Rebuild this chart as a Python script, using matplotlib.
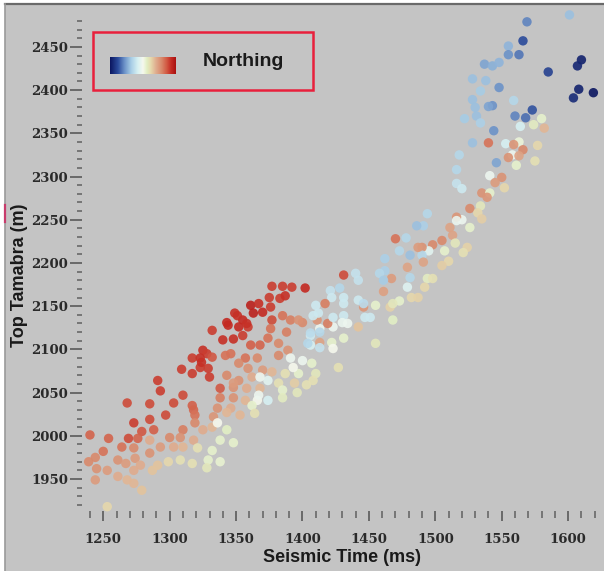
import numpy as np
import matplotlib
matplotlib.use("Agg")
import matplotlib.pyplot as plt
from matplotlib.colors import LinearSegmentedColormap
from matplotlib.patches import Rectangle
from matplotlib.ticker import MultipleLocator, FixedLocator

# seismic time (ms), top Tamabra depth (m), normalised northing (0 = south/blue, 1 = north/red)
seismic_time = [
    # upper trend (blue/white)
    1601, 1569, 1566, 1555, 1555, 1563, 1610, 1607, 1585, 1537,
    1543, 1548, 1528, 1538, 1548, 1608, 1619, 1604, 1534, 1528,
    1543, 1540, 1530, 1559, 1573, 1568, 1560, 1531, 1522, 1534,
    1580, 1564, 1574, 1582, 1544, 1540, 1528, 1553, 1563, 1559,
    1566, 1577, 1558, 1555, 1563, 1575, 1518, 1546, 1561, 1516,
    1541, 1550, 1545, 1552, 1516, 1520, 1535, 1541, 1539,
    1526, 1534, 1532, 1520, 1516, 1526, 1535, 1511, 1494, 1491,
    1513, 1505, 1498, 1515, 1524, 1521, 1507, 1495, 1490, 1490,
    1491, 1510, 1505, 1494, 1498,
    1516, 1486, 1470, 1478, 1487, 1473, 1481, 1462, 1479, 1462,
    1458, 1467, 1461, 1481, 1479, 1461, 1473, 1482, 1487, 1492,
    1431, 1440, 1442, 1402, 1421, 1428, 1431, 1431, 1422, 1410,
    1417, 1442, 1446, 1455, 1466, 1447, 1451, 1468, 1442, 1431,
    1430, 1423, 1413, 1411, 1408, 1400, 1406, 1422, 1431, 1413,
    1406, 1455, 1423,
    # middle (red cluster and mixed)
    1377, 1385, 1392, 1375, 1383, 1387, 1361, 1367, 1376, 1370,
    1363, 1349, 1355, 1377, 1385, 1391, 1397, 1344, 1352, 1359,
    1332, 1376, 1388, 1413, 1340, 1348, 1355, 1361, 1368, 1374,
    1382, 1389, 1404, 1406, 1325, 1328, 1317, 1323, 1332, 1342,
    1346, 1357, 1366, 1382, 1391, 1400, 1323, 1329, 1309, 1352,
    1359, 1370, 1377, 1387, 1397, 1407, 1410, 1317, 1330, 1343,
    1352, 1362, 1374, 1382, 1394, 1403, 1338, 1348, 1358, 1368,
    1385, 1396, 1310, 1338, 1348, 1357, 1366, 1367, 1374, 1385,
    1317, 1318, 1336, 1346, 1362, 1364, 1353,
    # lower left
    1291, 1293, 1348, 1303, 1268, 1285, 1297, 1343, 1333,
    1285, 1273, 1279, 1288, 1319, 1319, 1310, 1325, 1332, 1336,
    1343, 1240, 1254, 1269, 1276, 1285, 1300, 1308, 1318, 1338,
    1348, 1264, 1273, 1293, 1303, 1310, 1321, 1332, 1250, 1285,
    1244, 1239, 1261, 1267, 1274, 1278, 1291, 1299, 1308, 1317,
    1329, 1338, 1245, 1253, 1261, 1273, 1287, 1328, 1244, 1268,
    1273, 1279, 1253,
    # extra
    1343, 1351, 1358, 1324, 1368, 1413, 1419, 1412, 1423, 1434,
    1446, 1468, 1427, 1408, 1393,
]
top_tamabra = [
    2487, 2479, 2457, 2451, 2441, 2441, 2435, 2428, 2421, 2430,
    2428, 2432, 2413, 2411, 2403, 2401, 2397, 2391, 2399, 2389,
    2382, 2381, 2380, 2388, 2377, 2368, 2370, 2370, 2367, 2362,
    2367, 2358, 2360, 2356, 2353, 2339, 2339, 2338, 2340, 2337,
    2331, 2336, 2325, 2322, 2324, 2318, 2325, 2316, 2313, 2308,
    2301, 2299, 2293, 2287, 2292, 2286, 2281, 2281, 2276,
    2263, 2266, 2258, 2250, 2253, 2241, 2251, 2241, 2257, 2243,
    2232, 2226, 2221, 2223, 2218, 2212, 2214, 2214, 2218, 2209,
    2201, 2202, 2197, 2182, 2182,
    2249, 2243, 2228, 2229, 2218, 2214, 2209, 2205, 2195, 2191,
    2188, 2182, 2180, 2183, 2172, 2167, 2156, 2160, 2160, 2172,
    2186, 2188, 2180, 2171, 2168, 2171, 2160, 2153, 2160, 2151,
    2153, 2157, 2149, 2151, 2149, 2137, 2137, 2134, 2126, 2139,
    2131, 2126, 2124, 2134, 2139, 2131, 2116, 2108, 2113, 2108,
    2105, 2107, 2101,
    2173, 2173, 2172, 2160, 2159, 2162, 2151, 2153, 2149, 2143,
    2142, 2142, 2134, 2134, 2139, 2134, 2134, 2128, 2126, 2126,
    2122, 2124, 2120, 2120, 2111, 2112, 2116, 2105, 2105, 2113,
    2107, 2099, 2107, 2119, 2099, 2095, 2090, 2090, 2091, 2093,
    2095, 2090, 2090, 2093, 2090, 2087, 2079, 2078, 2077, 2084,
    2078, 2076, 2074, 2072, 2072, 2084, 2072, 2072, 2068, 2070,
    2064, 2068, 2064, 2061, 2061, 2059, 2055, 2056, 2055, 2055,
    2053, 2050, 2047, 2044, 2044, 2041, 2041, 2047, 2041, 2044,
    2035, 2030, 2032, 2032, 2035, 2026, 2024,
    2064, 2052, 2061, 2038, 2038, 2037, 2024, 2027, 2022,
    2019, 2015, 2005, 2007, 2024, 2015, 2007, 2007, 2010, 2015,
    2007, 2001, 1997, 1997, 1997, 1995, 1998, 1998, 1995, 1995,
    1992, 1987, 1986, 1987, 1987, 1987, 1986, 1983, 1982, 1980,
    1975, 1970, 1972, 1968, 1974, 1966, 1966, 1970, 1972, 1968,
    1972, 1970, 1962, 1960, 1953, 1960, 1960, 1963, 1949, 1949,
    1945, 1937, 1918,
    2131, 2139, 2130, 2085, 2068, 2102, 2130, 2142, 2137, 2130,
    2153, 2153, 2079, 2064, 2079,
]
northing = [
    .30, .20, .12, .28, .22, .18, .03, .04, .10, .25,
    .27, .28, .30, .30, .22, .03, .00, .05, .32, .30,
    .22, .25, .30, .35, .13, .17, .20, .30, .32, .33,
    .55, .42, .57, .68, .22, .82, .30, .42, .53, .75,
    .78, .62, .48, .76, .72, .60, .35, .25, .55, .35,
    .48, .76, .74, .62, .38, .40, .76, .55, .75,
    .78, .58, .62, .48, .75, .55, .64, .72, .35, .33,
    .72, .78, .78, .58, .63, .60, .55, .45, .76, .35,
    .72, .62, .64, .57, .60,
    .47, .30, .82, .35, .74, .35, .30, .33, .72, .33,
    .35, .74, .32, .35, .44, .73, .55, .62, .63, .62,
    .88, .38, .38, .93, .38, .35, .40, .40, .40, .40,
    .80, .40, .75, .55, .63, .40, .40, .56, .66, .40,
    .47, .48, .48, .75, .40, .78, .40, .55, .55, .72,
    .42, .58, .50,
    .90, .90, .90, .90, .90, .92, .95, .92, .90, .93,
    .95, .92, .93, .88, .82, .80, .76, .93, .93, .90,
    .90, .82, .80, .35, .92, .92, .90, .85, .84, .82,
    .78, .76, .35, .36, .92, .90, .90, .92, .86, .82,
    .82, .82, .78, .78, .48, .48, .90, .90, .90, .78,
    .76, .74, .68, .60, .55, .55, .58, .90, .90, .78,
    .76, .70, .45, .60, .64, .60, .86, .76, .70, .68,
    .55, .58, .88, .80, .76, .68, .50, .48, .42, .57,
    .85, .84, .76, .70, .55, .60, .68,
    .90, .90, .74, .88, .88, .88, .88, .68, .75,
    .88, .90, .86, .85, .82, .78, .80, .70, .68, .50,
    .56, .84, .84, .88, .84, .70, .78, .76, .70, .55,
    .55, .82, .78, .74, .70, .68, .60, .55, .82, .76,
    .78, .78, .76, .74, .74, .70, .66, .62, .60, .60,
    .55, .54, .76, .74, .70, .70, .66, .58, .74, .68,
    .68, .66, .62,
    .93, .92, .92, .92, .48, .38, .80, .40, .40, .48,
    .36, .58, .60, .60, .50,
]

cmap = LinearSegmentedColormap.from_list("northing", [
    (0.00, "#0b1660"), (0.12, "#2b4b9b"), (0.22, "#6c92c8"),
    (0.32, "#a8cde6"), (0.42, "#d6f0f2"), (0.50, "#f6f8ee"),
    (0.56, "#e2efc4"), (0.62, "#e6d8ac"), (0.70, "#dfac8e"),
    (0.78, "#d98a6c"), (0.86, "#d25a44"), (0.93, "#c42a22"),
    (1.00, "#a81010"),
])

W, H = 604, 571
fig = plt.figure(figsize=(W / 100, H / 100), dpi=100)
fig.patch.set_facecolor("#c4c4c4")
# white margin at top / left with darker edge lines
fig.patches.append(Rectangle((0, 1 - 4 / H), 1, 4 / H, transform=fig.transFigure,
                             facecolor="white", edgecolor="none"))
fig.patches.append(Rectangle((0, 0), 5 / W, 1, transform=fig.transFigure,
                             facecolor="white", edgecolor="none"))
fig.lines.append(plt.Line2D([5 / W, 1], [1 - 4 / H, 1 - 4 / H], transform=fig.transFigure,
                            color="#6a6a6a", lw=1.6))
fig.lines.append(plt.Line2D([5 / W, 5 / W], [0, 1 - 4 / H], transform=fig.transFigure,
                            color="#9a9a9a", lw=1.2))
fig.lines.append(plt.Line2D([5 / W, 5 / W], [1 - 205 / H, 1 - 222 / H], transform=fig.transFigure,
                            color="#c83c6c", lw=1.6))

ax = fig.add_axes([82 / W, 1 - 511 / H, (W - 82) / W, (511 - 8) / H])
ax.set_facecolor("none")
for s in ax.spines.values():
    s.set_visible(False)

ax.scatter(seismic_time, top_tamabra, c=northing, cmap=cmap, vmin=0, vmax=1,
           s=46, linewidths=0, alpha=0.9, clip_on=False, zorder=3)

ax.set_xlim(1234, 1627)
ax.set_ylim(1913, 2495)
ax.xaxis.set_major_locator(MultipleLocator(50))
ax.xaxis.set_minor_locator(MultipleLocator(10))
ax.yaxis.set_major_locator(FixedLocator(np.arange(1950, 2451, 50)))
ax.yaxis.set_minor_locator(FixedLocator(np.arange(1920, 2481, 10)))

ax.tick_params(axis="x", which="major", direction="out", length=7, width=1.1,
               color="#505050", pad=9, labelcolor="#2a2a2a")
ax.tick_params(axis="x", which="minor", direction="out", length=5, width=1.1, color="#606060")
ax.tick_params(axis="y", which="major", direction="out", length=9, width=1.1,
               color="#505050", pad=1, labelcolor="#2a2a2a")
ax.tick_params(axis="y", which="minor", direction="out", length=3.5, width=1.1, color="#606060")
for lab in ax.get_xticklabels() + ax.get_yticklabels():
    lab.set_fontfamily("DejaVu Serif")
    lab.set_fontweight("bold")
    lab.set_fontsize(9.5)

label_font = dict(family="Liberation Sans", weight="bold", size=13, color="#1a1a1a")
fig.text(342 / W, 1 - 557 / H, "Seismic Time (ms)", ha="center", va="center", **label_font)
fig.text(20 / W, 1 - 275 / H, "Top Tamabra (m)", ha="center", va="center",
         rotation=90, **label_font)

# legend box
fig.patches.append(Rectangle((93 / W, 1 - 90 / H), 220 / W, 58 / H, transform=fig.transFigure,
                             facecolor="none", edgecolor="#e8203c", lw=1.8, zorder=5))
cax = fig.add_axes([110 / W, 1 - 74 / H, 65 / W, 17 / H])
cax.imshow(np.linspace(0, 1, 256)[None, :], aspect="auto", cmap=cmap)
cax.set_axis_off()
fig.text(203 / W, 1 - 62 / H, "Northing", ha="left", va="center",
         family="Liberation Sans", weight="bold", size=14, color="#1a1a1a")

fig.savefig("out.png", dpi=100, facecolor=fig.get_facecolor())
